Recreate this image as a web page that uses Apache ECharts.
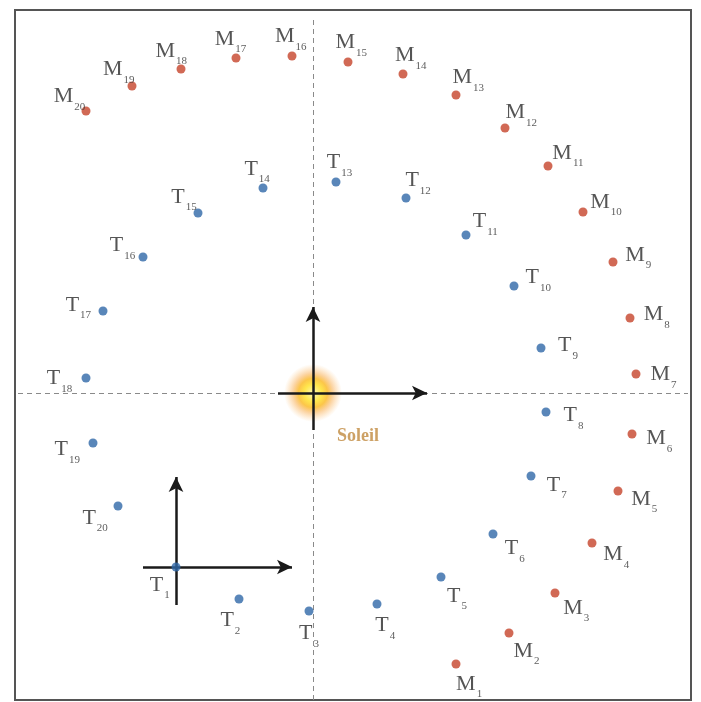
<!DOCTYPE html>
<html>
<head>
<meta charset="utf-8">
<script src="https://cdn.jsdelivr.net/npm/echarts@6/dist/echarts.min.js"></script>
<style>
  html, body { margin: 0; padding: 0; background: #fff; }
  #main { width: 701px; height: 702px; }
</style>
</head>
<body>
<div id="main"></div>
<script>
// positions de la Terre (T) et de Mars (M), repère de la feuille
var tX = [176, 239, 309, 377, 441, 493, 531, 546, 541, 514, 466, 406, 336, 263, 198, 143, 103, 86, 93, 118];
var tY = [567, 599, 611, 604, 577, 534, 476, 412, 348, 286, 235, 198, 182, 188, 213, 257, 311, 378, 443, 506];
var mX = [456, 509, 555, 592, 618, 632, 636, 630, 613, 583, 548, 505, 456, 403, 348, 292, 236, 181, 132, 86];
var mY = [664, 633, 593, 543, 491, 434, 374, 318, 262, 212, 166, 128, 95, 74, 62, 56, 58, 69, 86, 111];

var sunX = 313, sunY = 393;
var sunName = 'Soleil';
// repère lié au soleil : [x0, x1] , [y0, y1]
var sunAxisX = [278, 427], sunAxisY = [430, 307];
// repère lié à la Terre (en T1)
var earthAxisX = [143, 292], earthAxisY = [605, 477];

var chart = echarts.init(document.getElementById('main'));
var serif = '"Liberation Serif", "DejaVu Serif", serif';

function buildData (xs, ys, letter) {
  return xs.map(function (x, i) {
    var y = ys[i];
    var a = Math.atan2(y - sunY, x - sunX);
    var dx = Math.cos(a) * 27, dy = Math.sin(a) * 21;
    return {
      value: [x, y],
      name: letter + (i + 1),
      label: { position: [5 + dx, 5 + dy] }
    };
  });
}

var labelCommon = {
  show: true,
  align: 'center',
  verticalAlign: 'middle',
  formatter: function (p) {
    return '{a|' + p.name.charAt(0) + '}{s|' + p.name.slice(1) + '}';
  },
  rich: {
    a: { fontFamily: serif, fontSize: 22, color: '#2a2a2a', lineHeight: 24, verticalAlign: 'bottom' },
    s: { fontFamily: serif, fontSize: 11, color: '#333', lineHeight: 11, verticalAlign: 'bottom', padding: [0, 0, -5, 1] }
  }
};

function seg (p0, p1, arrow, style) {
  return [{ coord: p0, symbol: 'none' }, { coord: p1, symbol: arrow ? 'arrow' : 'none', lineStyle: style }];
}

var arrowStyle = { color: '#1a1a1a', type: 'solid', width: 2.5 };

var option = {
  backgroundColor: '#fff',
  animation: false,
  grid: { left: 0, right: 0, top: 0, bottom: 0 },
  xAxis: { type: 'value', min: 0, max: 701, show: false },
  yAxis: { type: 'value', min: 0, max: 702, inverse: true, show: false },
  graphic: [{
    type: 'rect',
    shape: { x: 15, y: 10, width: 676, height: 690 },
    style: { fill: 'none', stroke: '#555', lineWidth: 2 }
  }],
  series: [
    {
      // soleil (dessous des flèches)
      type: 'scatter',
      z: 1,
      symbolSize: 58,
      data: [{ value: [sunX, sunY], name: sunName }],
      itemStyle: {
        color: {
          type: 'radial', x: 0.5, y: 0.5, r: 0.5,
          colorStops: [
            { offset: 0, color: '#fff7a0' },
            { offset: 0.3, color: '#ffe020' },
            { offset: 0.5, color: '#fbb81c' },
            { offset: 0.7, color: 'rgba(248,160,50,0.55)' },
            { offset: 1, color: 'rgba(250,180,90,0)' }
          ]
        }
      },
      label: {
        show: true,
        position: [74, 72],
        align: 'center',
        verticalAlign: 'middle',
        formatter: '{b}',
        fontFamily: serif,
        fontSize: 18,
        fontWeight: 'bold',
        color: '#c08a3e'
      }
    },
    {
      // axes pointillés + flèches
      type: 'scatter',
      z: 2,
      data: [],
      markLine: {
        silent: true,
        symbolSize: [11, 15],
        label: { show: false },
        lineStyle: { color: '#8a8a8a', type: [5, 4], width: 1 },
        data: [
          [{ coord: [18, sunY], symbol: 'none' }, { coord: [688, sunY], symbol: 'none' }],
          [{ coord: [sunX, 20], symbol: 'none' }, { coord: [sunX, 700], symbol: 'none' }],
          seg([sunAxisX[0], sunY], [sunAxisX[1], sunY], true, arrowStyle),
          seg([sunX, sunAxisY[0]], [sunX, sunAxisY[1]], true, arrowStyle),
          seg([earthAxisX[0], tY[0]], [earthAxisX[1], tY[0]], true, arrowStyle),
          seg([tX[0], earthAxisY[0]], [tX[0], earthAxisY[1]], true, arrowStyle)
        ]
      }
    },
    {
      name: 'Terre',
      type: 'scatter',
      z: 5,
      symbolSize: 9,
      itemStyle: { color: '#2f68a8' },
      label: labelCommon,
      data: buildData(tX, tY, 'T')
    },
    {
      name: 'Mars',
      type: 'scatter',
      z: 5,
      symbolSize: 9,
      itemStyle: { color: '#c5432b' },
      label: labelCommon,
      data: buildData(mX, mY, 'M')
    }
  ]
};

chart.setOption(option);
</script>
</body>
</html>
